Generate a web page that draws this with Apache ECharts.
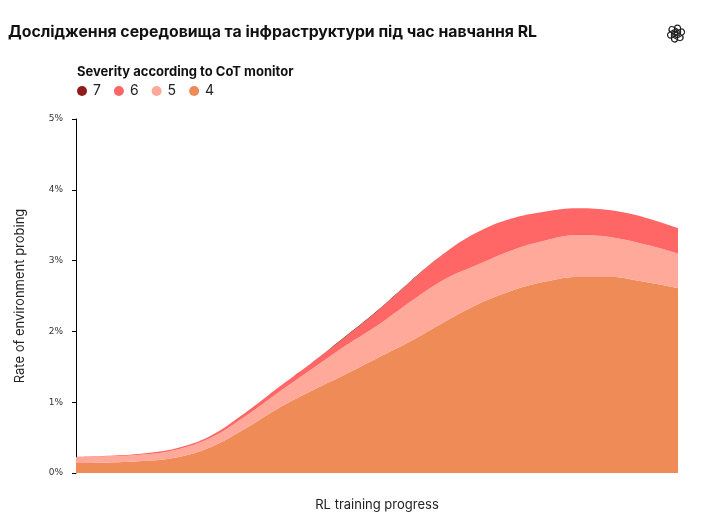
<!DOCTYPE html>
<html lang="uk">
<head>
  <meta charset="utf-8" />
  <title>ECharts</title>
  <script src="https://cdn.jsdelivr.net/npm/echarts@6/dist/echarts.min.js"></script>
  <style>
    html, body { margin: 0; padding: 0; background: #fff; }
  </style>
</head>
<body>
  <div id="main" style="width: 702px;height:519px;"></div>
  <script type="text/javascript">
    // training progress steps (no labels shown on the axis)
    var steps = ['0', '1', '2', '3', '4', '5', '6', '7', '8', '9', '10', '11', '12', '13', '14', '15', '16', '17', '18'];

    // rate of environment probing (%) per severity band, stacked 4 -> 7
    var sev4 = [0.14, 0.15, 0.17, 0.22, 0.36, 0.61, 0.90, 1.15, 1.38, 1.62, 1.86, 2.13, 2.38, 2.57, 2.70, 2.77, 2.77, 2.70, 2.61];
    var sev5 = [0.08, 0.085, 0.09, 0.11, 0.13, 0.17, 0.22, 0.30, 0.40, 0.46, 0.56, 0.60, 0.56, 0.57, 0.58, 0.59, 0.56, 0.53, 0.49];
    var sev6 = [0.01, 0.01, 0.015, 0.02, 0.03, 0.05, 0.07, 0.09, 0.12, 0.20, 0.28, 0.37, 0.46, 0.45, 0.41, 0.38, 0.38, 0.38, 0.36];
    var sev7 = [0, 0, 0, 0, 0, 0, 0, 0, 0.01, 0.012, 0.01, 0, 0, 0, 0, 0, 0, 0, 0];

    var yTicks = [0, 1, 2, 3, 4, 5];

    var colors = { '7': '#8e1c1c', '6': '#ff6766', '5': '#ffa99b', '4': '#ef8b56' };

    var myChart = echarts.init(document.getElementById('main'));

    function band(name, values) {
      return {
        name: name,
        type: 'line',
        stack: 'total',
        data: values,
        smooth: 0.4,
        symbol: 'none',
        lineStyle: { width: 0 },
        areaStyle: { color: colors[name], opacity: 1 },
        itemStyle: { color: colors[name] },
        emphasis: { disabled: true }
      };
    }

    var option = {
      animation: false,
      title: [
        {
          text: 'Дослідження середовища та інфраструктури під час навчання RL',
          left: 8,
          top: 24,
          padding: 0,
          textStyle: { fontFamily: 'Inter', fontSize: 15.8, fontWeight: 'bold', color: '#111' }
        },
        {
          text: 'Severity according to CoT monitor',
          left: 77,
          top: 66,
          padding: 0,
          textStyle: { fontFamily: 'Inter', fontSize: 13, fontWeight: 'bold', color: '#111' }
        }
      ],
      legend: {
        data: ['7', '6', '5', '4'],
        left: 77,
        top: 84,
        padding: 0,
        icon: 'circle',
        itemWidth: 10,
        itemHeight: 10,
        itemGap: 13,
        selectedMode: false,
        textStyle: { fontFamily: 'Inter', fontSize: 14, color: '#222', padding: [0, 0, 0, 1] }
      },
      grid: { left: 76, right: 24, top: 119, bottom: 46 },
      xAxis: {
        type: 'category',
        data: steps,
        boundaryGap: false,
        name: 'RL training progress',
        nameLocation: 'middle',
        nameGap: 26,
        nameTextStyle: { fontFamily: 'Inter', fontSize: 13, color: '#222' },
        axisLine: { show: false },
        axisTick: { show: false },
        axisLabel: { show: false },
        splitLine: { show: false }
      },
      yAxis: {
        type: 'value',
        min: yTicks[0],
        max: yTicks[yTicks.length - 1],
        interval: 1,
        name: 'Rate of environment probing',
        nameLocation: 'middle',
        nameGap: 49,
        nameTextStyle: { fontFamily: 'Inter', fontSize: 13, color: '#222' },
        axisLine: { show: true, lineStyle: { color: '#000', width: 1 } },
        axisTick: { show: true, length: 4, lineStyle: { color: '#000' } },
        axisLabel: {
          formatter: '{value}%',
          margin: 13,
          fontFamily: 'DejaVu Sans',
          fontSize: 9,
          color: '#333'
        },
        splitLine: { show: false }
      },
      series: [
        band('4', sev4),
        band('5', sev5),
        band('6', sev6),
        band('7', sev7)
      ],
      graphic: [
        {
          type: 'group',
          left: 663,
          top: 22,
          children: [0, 60, 120, 180, 240, 300].map(function (deg) {
            return {
              type: 'rect',
              x: 9, y: 9,
              originX: 0, originY: 0,
              rotation: deg * Math.PI / 180,
              shape: { x: -1.5, y: -8.5, width: 6, height: 11, r: 3 },
              style: { fill: 'none', stroke: '#222', lineWidth: 1.2 }
            };
          })
        }
      ]
    };

    myChart.setOption(option);
  </script>
</body>
</html>
